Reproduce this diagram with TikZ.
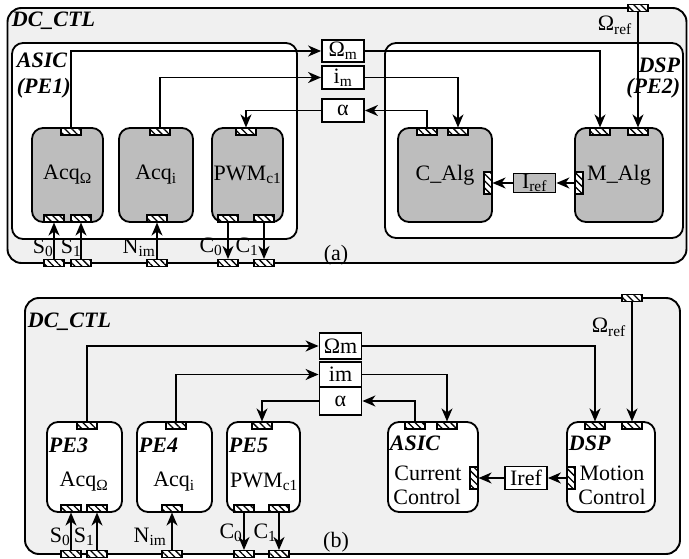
\documentclass[tikz,border=0pt]{standalone}
\usepackage{fontspec}
\setmainfont{Liberation Serif}
\usetikzlibrary{arrows.meta,patterns.meta}
\tikzstyle{ctl}=[draw=black,line width=1.9pt,rounded corners=14pt,fill=black!6,inner sep=0pt]
\tikzstyle{pe}=[draw=black,line width=1.8pt,rounded corners=11pt,fill=white,inner sep=0pt]
\tikzstyle{task}=[pe,fill=black!26]
\tikzstyle{sig}=[draw=black,line width=1.8pt,fill=white,minimum width=42pt,inner sep=0pt]
\tikzstyle{hport}=[draw=black,line width=1.1pt,minimum width=20pt,minimum height=7pt,inner sep=0pt,preaction={fill=white},pattern={Lines[angle=135,distance=5pt,line width=1.3pt]}]
\tikzstyle{vport}=[hport,minimum width=8pt,minimum height=22pt]
\tikzstyle{lbl}=[font=\fontsize{22}{24}\selectfont\bfseries\itshape,inner sep=0pt]
\tikzstyle{dgraph}=[->,>={Stealth[length=13pt,width=11pt,inset=4pt]},line width=1.8pt]

\begin{document}
\begin{tikzpicture}[x=1pt,y=-1pt,dgraph,font=\fontsize{22}{24}\selectfont]
\useasboundingbox (0,0) rectangle (689,559);
% (a)
\node[ctl,minimum width=679pt,minimum height=255pt] (dcA) at (347,135.5) {};
\node[lbl,anchor=west] (dcAt) at (11,21) {DC\_CTL};
\node[pe,minimum width=285pt,minimum height=196pt] (asicA) at (154.5,141) {};
\node[pe,minimum width=298pt,minimum height=195pt] (dspA) at (534,140.5) {};
\node[lbl,anchor=west] (asicAt) at (16,60) {ASIC};
\node[lbl,anchor=west] (asicAp) at (16,88) {(PE1)};
\node[lbl,anchor=east] (dspAt) at (681,65) {DSP};
\node[lbl,anchor=east] (dspAp) at (681,88) {(PE2)};
\node[task,minimum width=71pt,minimum height=94pt] (acqOA) at (67.5,175) {Acq\textsubscript{Ω}};
\node[task,minimum width=74pt,minimum height=94pt] (acqIA) at (156,175) {Acq\textsubscript{i}};
\node[task,minimum width=71pt,minimum height=94pt] (pwmA) at (247.5,175) {PWM\textsubscript{c1}};
\node[task,minimum width=94pt,minimum height=94pt] (calgA) at (445,175) {C\_Alg};
\node[task,minimum width=88pt,minimum height=94pt] (malgA) at (619,175) {M\_Alg};
\node[hport] (pAOt) at (71,131.5) {};
\node[hport] (pAOb0) at (54,218.5) {};
\node[hport] (pAOb1) at (81,218.5) {};
\node[hport] (pAIt) at (160,131.5) {};
\node[hport] (pAIb) at (157,218.5) {};
\node[hport] (pPWt) at (246,131.5) {};
\node[hport] (pPWb0) at (228,218.5) {};
\node[hport] (pPWb1) at (264,218.5) {};
\node[hport] (pCAt0) at (427,131.5) {};
\node[hport] (pCAt1) at (458,131.5) {};
\node[vport] (pCAr) at (488,183) {};
\node[hport] (pMAt0) at (600,131.5) {};
\node[hport] (pMAt1) at (638,131.5) {};
\node[vport] (pMAl) at (579,183) {};
\node[hport] (fS0A) at (54,263) {};
\node[hport] (fS1A) at (81,263) {};
\node[hport] (fNA) at (157,263) {};
\node[hport] (fC0A) at (228,263) {};
\node[hport] (fC1A) at (264,263) {};
\node[hport] (fOrA) at (638,8) {};
\node[sig,minimum height=22pt] (omA) at (343,51) {Ω\textsubscript{m}};
\node[sig,minimum height=23pt] (imA) at (343,77.5) {i\textsubscript{m}};
\node[sig,minimum height=23pt] (alA) at (343,110.5) {α};
\node[sig,fill=black!26,minimum height=19pt] (irefA) at (534.5,183) {I\textsubscript{ref}};
\node (s0A) at (43,248) {S\textsubscript{0}};
\node (s1A) at (71,248) {S\textsubscript{1}};
\node (nA) at (139,248) {N\textsubscript{im}};
\node (c0A) at (211,247) {C\textsubscript{0}};
\node (c1A) at (247,247) {C\textsubscript{1}};
\node[anchor=east] (oRA) at (636,25) {Ω\textsubscript{ref}};
\node (capA) at (336,255) {(a)};
\draw (pAOt) |- (omA); \draw (pAIt) |- (imA); \draw (alA) -| (pPWt);
\draw (omA) -| (pMAt0); \draw (imA) -| (pCAt1); \draw (pCAt0) |- (alA);
\draw (fOrA) -- (pMAt1); \draw (pMAl) -- (irefA); \draw (irefA) -- (pCAr);
\draw (fS0A) -- (pAOb0); \draw (fS1A) -- (pAOb1); \draw (fNA) -- (pAIb);
\draw (pPWb0) -- (fC0A); \draw (pPWb1) -- (fC1A);
% (b)
\node[ctl,minimum width=655pt,minimum height=256pt] (dcB) at (352.5,426) {};
\node[lbl,anchor=west] (dcBt) at (27,322) {DC\_CTL};
\node[pe,minimum width=75pt,minimum height=90pt] (pe3) at (84.5,467) {};
\node[pe,minimum width=75pt,minimum height=90pt] (pe4) at (174.5,467) {};
\node[pe,minimum width=73pt,minimum height=90pt] (pe5) at (263.5,467) {};
\node[pe,minimum width=90pt,minimum height=90pt] (asicB) at (433,467) {};
\node[pe,minimum width=88pt,minimum height=90pt] (dspB) at (611,467) {};
\node[lbl,anchor=west] (pe3t) at (48,445) {PE3};
\node[lbl,anchor=west] (pe4t) at (138,445) {PE4};
\node[lbl,anchor=west] (pe5t) at (228,445) {PE5};
\node[lbl,anchor=west] (asicBt) at (389,443) {ASIC};
\node[lbl,anchor=west] (dspBt) at (568,443) {DSP};
\node (acqOB) at (84,482) {Acq\textsubscript{Ω}};
\node (acqIB) at (174,482) {Acq\textsubscript{i}};
\node (pwmB) at (264,482) {PWM\textsubscript{c1}};
\node (curB) at (428,473) {Current};
\node (ctlB1) at (427,497) {Control};
\node (motB) at (612,473) {Motion};
\node (ctlB2) at (612,497) {Control};
\node[hport] (qP3t) at (87,425.5) {};
\node[hport] (qP3b0) at (71,508.5) {};
\node[hport] (qP3b1) at (97,508.5) {};
\node[hport] (qP4t) at (176,425.5) {};
\node[hport] (qP4b) at (172,508.5) {};
\node[hport] (qP5t) at (262,425.5) {};
\node[hport] (qP5b0) at (244,508.5) {};
\node[hport] (qP5b1) at (279,508.5) {};
\node[hport] (qAt0) at (415,425.5) {};
\node[hport] (qAt1) at (447,425.5) {};
\node[vport] (qAr) at (474,478) {};
\node[hport] (qDt0) at (595,425.5) {};
\node[hport] (qDt1) at (632,425.5) {};
\node[vport] (qDl) at (571,478) {};
\node[hport] (gS0) at (71,554) {};
\node[hport] (gS1) at (97,554) {};
\node[hport] (gN) at (172,554) {};
\node[hport] (gC0) at (244,554) {};
\node[hport] (gC1) at (279,554) {};
\node[hport] (gOr) at (632,298) {};
\node[sig,minimum height=26pt] (omB) at (340.5,346) {Ωm};
\node[sig,minimum height=25pt] (imB) at (340.5,374.5) {im};
\node[sig,minimum height=28pt] (alB) at (340.5,401) {α};
\node[sig,minimum height=23pt] (irefB) at (526,478) {Iref};
\node (s0B) at (60,537) {S\textsubscript{0}};
\node (s1B) at (84,537) {S\textsubscript{1}};
\node (nB) at (150,537) {N\textsubscript{im}};
\node (c0B) at (231,533) {C\textsubscript{0}};
\node (c1B) at (265,533) {C\textsubscript{1}};
\node[anchor=east] (oRB) at (630,327) {Ω\textsubscript{ref}};
\node (capB) at (336,542) {(b)};
\draw (qP3t) |- (omB); \draw (qP4t) |- (imB); \draw (alB) -| (qP5t);
\draw (omB) -| (qDt0); \draw (imB) -| (qAt1); \draw (qAt0) |- (alB);
\draw (gOr) -- (qDt1); \draw (qDl) -- (irefB); \draw (irefB) -- (qAr);
\draw (gS0) -- (qP3b0); \draw (gS1) -- (qP3b1); \draw (gN) -- (qP4b);
\draw (qP5b0) -- (gC0); \draw (qP5b1) -- (gC1);
\end{tikzpicture}
\end{document}
